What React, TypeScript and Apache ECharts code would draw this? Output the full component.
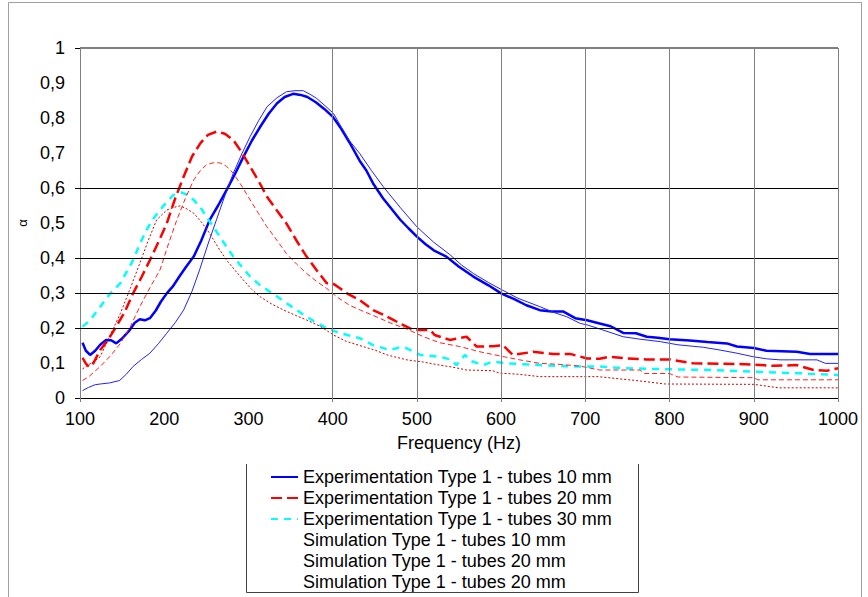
import React, { useEffect, useRef } from "react";
import * as echarts from "echarts";

// ---------- data (Hz, alpha) ----------
const exp10: number[][] = [
  [103,0.158],[107,0.135],[112,0.123],[118,0.135],[124,0.152],[131,0.166],[137,0.165],[143,0.156],[150,0.170],[159,0.194],[165,0.215],[171,0.225],[177,0.222],[183,0.228],[190,0.250],[196,0.275],[203,0.299],[210,0.318],[218,0.347],[226,0.375],[235,0.404],[244,0.450],[254,0.509],[264,0.550],[274,0.594],[284,0.640],[294,0.689],[304,0.735],[314,0.775],[324,0.812],[334,0.842],[343,0.860],[353,0.869],[362,0.866],[370,0.860],[380,0.845],[390,0.826],[400,0.804],[410,0.770],[420,0.730],[432,0.678],[440,0.650],[448,0.613],[460,0.570],[470,0.540],[480,0.510],[490,0.485],[500,0.461],[510,0.440],[520,0.422],[535,0.404],[550,0.375],[567,0.347],[585,0.322],[600,0.299],[615,0.283],[630,0.265],[646,0.251],[660,0.247],[674,0.247],[688,0.228],[702,0.222],[717,0.213],[730,0.205],[745,0.186],[760,0.185],[773,0.175],[786,0.172],[800,0.168],[824,0.164],[845,0.160],[868,0.156],[880,0.147],[900,0.143],[915,0.135],[951,0.132],[967,0.126],[1000,0.126]
];
const exp20: number[][] = [
  [103,0.115],[107,0.098],[111,0.088],[116,0.100],[124,0.137],[133,0.165],[143,0.204],[153,0.245],[163,0.299],[173,0.345],[183,0.394],[193,0.445],[203,0.499],[213,0.570],[223,0.632],[233,0.690],[243,0.728],[252,0.752],[262,0.761],[272,0.755],[282,0.737],[292,0.702],[302,0.661],[312,0.620],[322,0.575],[334,0.535],[345,0.499],[357,0.450],[369,0.404],[381,0.365],[393,0.328],[401,0.326],[409,0.313],[417,0.299],[432,0.280],[448,0.251],[460,0.238],[472,0.223],[484,0.208],[496,0.194],[516,0.194],[521,0.180],[539,0.166],[559,0.175],[571,0.147],[590,0.148],[602,0.151],[614,0.123],[638,0.132],[662,0.126],[682,0.126],[702,0.113],[717,0.112],[729,0.118],[750,0.113],[773,0.110],[801,0.110],[828,0.099],[864,0.098],[896,0.096],[923,0.092],[951,0.094],[971,0.080],[987,0.078],[1000,0.085]
];
const exp30: number[][] = [
  [103,0.204],[112,0.222],[124,0.261],[136,0.299],[148,0.328],[163,0.394],[171,0.440],[179,0.480],[187,0.512],[195,0.537],[203,0.560],[211,0.580],[221,0.587],[228,0.580],[235,0.566],[243,0.545],[250,0.518],[258,0.490],[266,0.461],[274,0.432],[282,0.404],[292,0.375],[302,0.347],[312,0.326],[322,0.309],[334,0.290],[345,0.271],[357,0.252],[369,0.232],[381,0.215],[393,0.199],[409,0.185],[432,0.171],[448,0.151],[468,0.137],[480,0.145],[488,0.142],[504,0.123],[527,0.118],[540,0.110],[547,0.094],[557,0.123],[565,0.105],[579,0.094],[590,0.104],[606,0.099],[646,0.094],[686,0.090],[717,0.090],[745,0.085],[800,0.082],[852,0.080],[899,0.075],[951,0.071],[1000,0.066]
];
const sim10: number[][] = [
  [103,0.021],[110,0.030],[118,0.038],[124,0.040],[135,0.043],[147,0.050],[155,0.068],[163,0.090],[173,0.110],[183,0.128],[193,0.155],[203,0.185],[213,0.215],[223,0.251],[233,0.305],[242,0.366],[252,0.440],[262,0.509],[272,0.578],[282,0.642],[292,0.697],[302,0.747],[312,0.792],[322,0.832],[334,0.858],[345,0.875],[355,0.878],[365,0.878],[373,0.868],[381,0.856],[391,0.835],[401,0.813],[410,0.775],[420,0.735],[432,0.699],[446,0.650],[460,0.604],[480,0.545],[500,0.489],[520,0.445],[539,0.410],[553,0.380],[567,0.356],[585,0.330],[601,0.309],[620,0.285],[646,0.261],[662,0.245],[678,0.232],[694,0.213],[702,0.209],[720,0.195],[745,0.175],[765,0.168],[789,0.161],[810,0.152],[840,0.145],[860,0.137],[880,0.128],[899,0.118],[915,0.112],[931,0.109],[975,0.109],[985,0.099],[1000,0.099]
];
const sim20: number[][] = [
  [103,0.050],[110,0.060],[117,0.075],[124,0.090],[136,0.120],[148,0.156],[160,0.205],[171,0.261],[183,0.315],[195,0.366],[205,0.440],[215,0.509],[225,0.570],[235,0.623],[243,0.650],[250,0.666],[258,0.672],[266,0.672],[274,0.662],[282,0.642],[292,0.606],[302,0.566],[312,0.527],[322,0.489],[334,0.450],[345,0.413],[357,0.383],[369,0.356],[381,0.333],[393,0.313],[405,0.289],[420,0.265],[433,0.251],[448,0.236],[468,0.215],[488,0.197],[508,0.175],[527,0.158],[551,0.147],[575,0.132],[599,0.120],[622,0.109],[646,0.099],[670,0.096],[694,0.091],[717,0.080],[765,0.080],[770,0.070],[800,0.070],[810,0.060],[900,0.058],[905,0.052],[940,0.052],[1000,0.052]
];
const sim30: number[][] = [
  [103,0.083],[110,0.095],[117,0.105],[124,0.118],[136,0.180],[148,0.242],[160,0.315],[171,0.385],[181,0.450],[191,0.509],[203,0.537],[212,0.545],[219,0.549],[227,0.540],[235,0.528],[245,0.500],[254,0.470],[264,0.430],[274,0.394],[284,0.365],[294,0.337],[304,0.310],[314,0.289],[328,0.268],[342,0.251],[356,0.236],[369,0.223],[385,0.205],[401,0.180],[416,0.162],[432,0.150],[450,0.137],[466,0.122],[488,0.109],[507,0.103],[527,0.094],[543,0.088],[559,0.080],[590,0.078],[598,0.071],[620,0.068],[646,0.061],[715,0.061],[760,0.050],[795,0.040],[900,0.039],[930,0.029],[1000,0.029]
];

const legendLabels: string[] = [
  "Experimentation Type 1 - tubes 10 mm",
  "Experimentation Type 1 - tubes 20 mm",
  "Experimentation Type 1 - tubes 30 mm",
  "Simulation Type 1 - tubes 10 mm",
  "Simulation Type 1 - tubes 20 mm",
  "Simulation Type 1 - tubes 20 mm",
];

const hGridBlack: number[] = [0.2, 0.3, 0.4, 0.6];
const vGridGray: number[] = [400, 500, 600, 700, 800, 900, 1000];
const yTicks: number[] = [0, 0.2, 0.3, 0.4, 0.6, 1];
const xTicks: number[] = [100, 400, 500, 600, 700, 800, 900, 1000];

const FONT = "'Liberation Sans', Arial, sans-serif";

export default function App() {
  const ref = useRef<HTMLDivElement>(null);
  useEffect(() => {
    if (!ref.current) return;
    const chart = echarts.init(ref.current, undefined, { renderer: "svg" });
    const ids = ["s0", "s1", "s2", "s3", "s4", "s5"];
    const seriesDefs = [
      { data: exp10, color: "#0000FF", width: 2.5, type: "solid" as any },
      { data: exp20, color: "#FF0000", width: 2.5, type: [11, 5] as any },
      { data: exp30, color: "#00FFFF", width: 2.5, type: [7, 6] as any },
      { data: sim10, color: "#2222FF", width: 1, type: "solid" as any },
      { data: sim20, color: "#FF2020", width: 1, type: [5, 3] as any },
      { data: sim30, color: "#CC0000", width: 1, type: [2, 2] as any },
    ];
    const option: any = {
      animation: false,
      backgroundColor: "#ffffff",
      textStyle: { fontFamily: FONT },
      grid: { left: 80, top: 48, width: 758, height: 350, containLabel: false },
      xAxis: {
        type: "value",
        min: 100,
        max: 1000,
        interval: 100,
        name: "Frequency (Hz)",
        nameLocation: "middle",
        nameGap: 36,
        nameTextStyle: { fontSize: 18, color: "#000", fontFamily: FONT },
        axisLine: { show: true, onZero: false, lineStyle: { color: "#000", width: 1 } },
        axisTick: { show: true, length: 4, customValues: xTicks, lineStyle: { color: "#808080" } },
        axisLabel: {
          fontSize: 18,
          color: "#000",
          margin: 12,
          fontFamily: FONT,
          formatter: (v: number) => String(Math.round(v)),
        },
        splitLine: { show: false },
      },
      yAxis: {
        type: "value",
        min: 0,
        max: 1,
        interval: 0.1,
        name: "α",
        nameLocation: "middle",
        nameGap: 50,
        nameRotate: 90,
        nameTextStyle: { fontSize: 13, color: "#000", fontFamily: FONT },
        axisLine: { show: true, onZero: false, lineStyle: { color: "#808080", width: 1 } },
        axisTick: { show: true, length: 5, customValues: yTicks, lineStyle: { color: "#000" } },
        axisLabel: {
          fontSize: 18,
          color: "#000",
          margin: 15,
          fontFamily: FONT,
          formatter: (v: number) => String(Math.round(v * 10) / 10).replace(".", ","),
        },
        splitLine: { show: false },
      },
      legend: {
        orient: "vertical",
        left: 270,
        top: 467,
        padding: 0,
        itemGap: 1,
        itemWidth: 27,
        itemHeight: 14,
        itemStyle: { color: "transparent", borderColor: "transparent", borderWidth: 0, opacity: 0 },
        textStyle: { fontSize: 18, color: "#000", lineHeight: 20, fontFamily: FONT },
        formatter: (name: string) => legendLabels[ids.indexOf(name)],
        data: ids.map((id, i) => (i >= 3 ? { name: id, icon: "none" } : { name: id })),
        selectedMode: false,
      },
      series: [
        {
          name: "grid",
          type: "line",
          data: [],
          z: 1,
          silent: true,
          markLine: {
            silent: true,
            symbol: ["none", "none"],
            label: { show: false },
            animation: false,
            data: [
              ...hGridBlack.map((v) => ({ yAxis: v, lineStyle: { color: "#000", width: 1, type: "solid" } })),
              { yAxis: 1, lineStyle: { color: "#808080", width: 2, type: "solid" } },
              ...vGridGray.map((v) => ({ xAxis: v, lineStyle: { color: "#808080", width: 1, type: "solid" } })),
            ],
          },
        },
        ...seriesDefs.map((s, i) => ({
          name: ids[i],
          type: "line",
          data: s.data,
          showSymbol: false,
          symbol: "circle",
          symbolSize: 0,
          z: 3,
          lineStyle: { color: s.color, width: s.width, type: s.type, cap: "butt" },
          itemStyle: { color: s.color },
        })),
      ],
      graphic: [
        {
          type: "rect",
          shape: { x: 8.5, y: 2.5, width: 853, height: 700 },
          style: { fill: "none", stroke: "#a0a0a0", lineWidth: 1 },
          silent: true,
        },
        {
          type: "polyline",
          shape: { points: [[246.5, 464], [246.5, 592.5], [638.5, 592.5], [638.5, 464]] },
          style: { fill: "none", stroke: "#404040", lineWidth: 1 },
          silent: true,
        },
      ],
    };
    chart.setOption(option);
    return () => chart.dispose();
  }, []);
  return (
    <div
      ref={ref}
      style={{ position: "absolute", left: 0, top: 0, width: 868, height: 597, background: "#fff" }}
    />
  );
}
